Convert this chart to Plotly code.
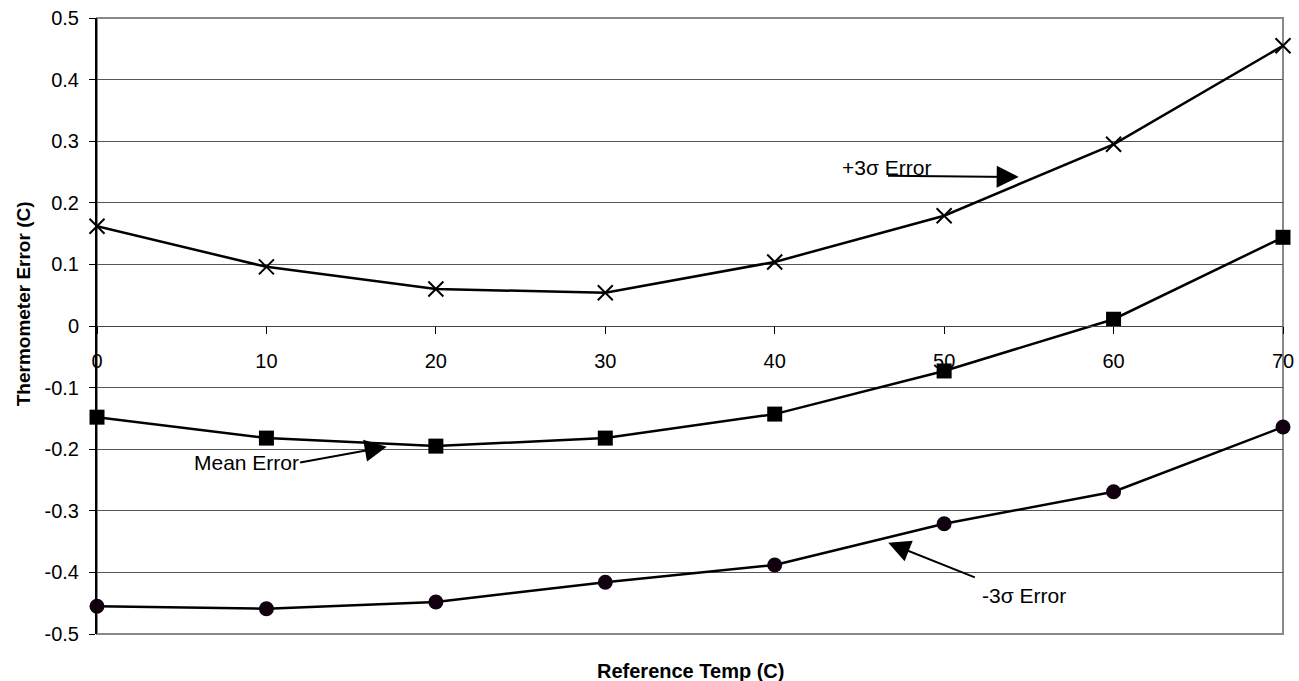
import plotly.graph_objects as go

temps = [0, 10, 20, 30, 40, 50, 60, 70]
plus3sigma = [0.162, 0.096, 0.060, 0.054, 0.104, 0.179, 0.295, 0.455]
mean_err = [-0.148, -0.182, -0.195, -0.182, -0.143, -0.073, 0.011, 0.144]
minus3sigma = [-0.455, -0.459, -0.448, -0.416, -0.388, -0.321, -0.269, -0.164]

x_ticks = [0, 10, 20, 30, 40, 50, 60, 70]
y_ticks = [-0.5, -0.4, -0.3, -0.2, -0.1, 0, 0.1, 0.2, 0.3, 0.4, 0.5]
y_labels = ["-0.5", "-0.4", "-0.3", "-0.2", "-0.1", "0", "0.1", "0.2", "0.3", "0.4", "0.5"]

FONT = "Liberation Sans, Arial, sans-serif"

fig = go.Figure()
fig.add_trace(go.Scatter(x=temps, y=plus3sigma, mode="lines+markers", name="+3σ Error",
                         line=dict(color="black", width=2.5),
                         marker=dict(symbol="x-thin", size=15, line=dict(color="black", width=2)),
                         cliponaxis=False))
fig.add_trace(go.Scatter(x=temps, y=mean_err, mode="lines+markers", name="Mean Error",
                         line=dict(color="black", width=2.5),
                         marker=dict(symbol="square", size=15, color="black"),
                         cliponaxis=False))
fig.add_trace(go.Scatter(x=temps, y=minus3sigma, mode="lines+markers", name="-3σ Error",
                         line=dict(color="black", width=2.5),
                         marker=dict(symbol="circle", size=15, color="#100010"),
                         cliponaxis=False))

fig.update_layout(
    width=1299, height=681,
    margin=dict(l=97, r=16, t=18, b=47, autoexpand=False),
    paper_bgcolor="white", plot_bgcolor="white",
    showlegend=False,
    font=dict(family=FONT, size=20, color="black"),
    xaxis=dict(range=[0, 70], tickvals=x_ticks, ticks="outside", ticklen=7,
               tickcolor="black", showgrid=False, zeroline=False,
               showline=True, linecolor="#444", linewidth=1,
               anchor="free", position=0.5, automargin=False,
               ticklabelstandoff=10, ticklabeloverflow="allow",
               tickfont=dict(family=FONT, size=20)),
    yaxis=dict(range=[-0.5, 0.5], tickvals=y_ticks, ticktext=y_labels,
               ticks="outside", ticklen=6, tickcolor="black",
               showgrid=True, gridcolor="#555", gridwidth=1, zeroline=False,
               showline=True, linecolor="black", linewidth=2, automargin=False,
               ticklabelstandoff=6, ticklabeloverflow="allow",
               tickfont=dict(family=FONT, size=20)),
)

# plot border (top and right)
fig.add_shape(type="rect", xref="paper", yref="paper", x0=0, y0=0, x1=1, y1=1,
              line=dict(color="#888", width=2), layer="below")

# axis titles
fig.add_annotation(text="<b>Reference Temp (C)</b>", xref="paper", yref="paper",
                   x=0.5, y=-0.060, yanchor="middle", showarrow=False,
                   font=dict(family=FONT, size=20))
fig.add_annotation(text="<b>Thermometer Error (C)</b>", xref="paper", yref="paper",
                   x=-0.062, y=0.536, xanchor="center", yanchor="middle", textangle=-90,
                   showarrow=False, font=dict(family=FONT, size=19))

# labels
fig.add_annotation(text="+3σ Error", x=46.6, y=0.258, xref="x", yref="y",
                   showarrow=False, font=dict(family=FONT, size=21))
fig.add_annotation(text="Mean Error", x=8.8, y=-0.222, xref="x", yref="y",
                   showarrow=False, font=dict(family=FONT, size=21))
fig.add_annotation(text="-3σ Error", x=54.7, y=-0.437, xref="x", yref="y",
                   showarrow=False, font=dict(family=FONT, size=21))

# arrows
arrows = [
    (46.6, 0.244, 54.4, 0.242),
    (11.9, -0.222, 17.1, -0.196),
    (51.9, -0.409, 46.7, -0.352),
]
for ax_, ay_, x_, y_ in arrows:
    fig.add_annotation(text="", x=x_, y=y_, ax=ax_, ay=ay_, xref="x", yref="y",
                       axref="x", ayref="y", showarrow=True, arrowhead=2,
                       arrowsize=2.2, arrowwidth=2, arrowcolor="black")

fig.write_html("out.html", config={"displayModeBar": False},
               post_script="document.body.style.margin='0';document.body.style.overflow='hidden';")
